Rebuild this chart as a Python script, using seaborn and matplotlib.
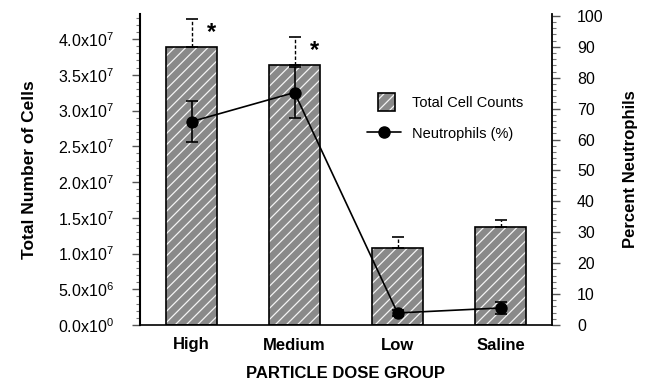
import numpy as np
import pandas as pd
import matplotlib
matplotlib.use("Agg")
import matplotlib.pyplot as plt
import seaborn as sns
from matplotlib.patches import Patch, Rectangle
from matplotlib.lines import Line2D
from matplotlib.legend_handler import HandlerPatch, HandlerTuple
from matplotlib.ticker import MultipleLocator, FixedLocator, FixedFormatter

# ---- data -------------------------------------------------------------
groups = ["High", "Medium", "Low", "Saline"]
total_cells = [3.89e7, 3.64e7, 1.08e7, 1.37e7]
total_cells_err = [0.39e7, 0.39e7, 0.15e7, 0.10e7]
neutrophils_pct = [65.8, 75.2, 3.9, 5.5]
neutrophils_err = [6.5, 8.2, 1.0, 1.9]
significant = [True, True, False, False]

cell_ticks = [0, 5e6, 1e7, 1.5e7, 2e7, 2.5e7, 3e7, 3.5e7, 4e7]
cell_tick_labels = ["0.0x10^{0}", "5.0x10^{6}", "1.0x10^{7}", "1.5x10^{7}",
                    "2.0x10^{7}", "2.5x10^{7}", "3.0x10^{7}", "3.5x10^{7}",
                    "4.0x10^{7}"]
pct_ticks = [0, 10, 20, 30, 40, 50, 60, 70, 80, 90, 100]

# ---- style ------------------------------------------------------------
sns.set_theme(style="white")
plt.rcParams["font.family"] = ["Liberation Sans", "DejaVu Sans"]
plt.rcParams["mathtext.fontset"] = "custom"
plt.rcParams["mathtext.rm"] = "Liberation Sans"
plt.rcParams["mathtext.it"] = "Liberation Sans:italic"
plt.rcParams["mathtext.bf"] = "Liberation Sans:bold"
plt.rcParams["hatch.linewidth"] = 0.9
for key in ["text.color", "axes.labelcolor", "xtick.labelcolor",
            "ytick.labelcolor"]:
    plt.rcParams[key] = "black"

BAR_GREY = "#8a8a8a"
HATCH = "///"

fig = plt.figure(figsize=(6.49, 3.83), dpi=100)
ax = fig.add_axes([140 / 649, 1 - 325 / 383, 412 / 649, 311 / 383])

df = pd.DataFrame({"group": groups, "cells": total_cells})

# hatched grey fill, then a black outline on top
sns.barplot(data=df, x="group", y="cells", order=groups, width=0.5,
            color=BAR_GREY, saturation=1, edgecolor="#f4f4f4", linewidth=0,
            hatch=HATCH, errorbar=None, ax=ax)
sns.barplot(data=df, x="group", y="cells", order=groups, width=0.5,
            fill=False, color="black", linewidth=1.2, errorbar=None, ax=ax)

x_pos = np.arange(len(groups))
eb = ax.errorbar(x_pos, total_cells,
                 yerr=[np.zeros(len(groups)), total_cells_err],
                 fmt="none", ecolor="black", elinewidth=1.0,
                 capsize=4, capthick=1.2, zorder=3)
eb[2][0].set_linestyle((0, (2.5, 1.5)))

for i, sig in enumerate(significant):
    if sig:
        ax.annotate("*", xy=(i, total_cells[i] + total_cells_err[i]),
                    xytext=(20, -2), textcoords="offset pixels",
                    ha="center", va="top", fontsize=17, fontweight="bold",
                    color="black")

ax.set_ylim(0, 4.35e7)
ax.set_xlim(-0.5, len(groups) - 0.5)
ax.yaxis.set_major_locator(FixedLocator(cell_ticks))
ax.yaxis.set_major_formatter(
    FixedFormatter([r"$\mathregular{" + s + "}$" for s in cell_tick_labels]))
ax.yaxis.set_minor_locator(MultipleLocator(1e6))
ax.tick_params(axis="y", which="major", direction="out", length=6,
               width=1.0, color="#555555", labelsize=11.5, pad=13, left=True)
ax.tick_params(axis="y", which="minor", direction="out", length=3,
               width=0.8, color="#777777", left=True)
ax.tick_params(axis="x", length=0, labelsize=12, pad=9)
for lab in ax.get_xticklabels():
    lab.set_fontweight("bold")
ax.set_xlabel("PARTICLE DOSE GROUP", fontsize=12, fontweight="bold",
              labelpad=10)
ax.set_ylabel("Total Number of Cells", fontsize=12.5, fontweight="bold",
              labelpad=15)

for side in ["left", "bottom", "right"]:
    ax.spines[side].set_color("black")
ax.spines["left"].set_linewidth(1.5)
ax.spines["bottom"].set_linewidth(1.2)
ax.spines["top"].set_visible(False)
ax.spines["right"].set_visible(False)

# ---- neutrophil percentage on the right axis ------------------------
ax2 = ax.twinx()
sns.pointplot(x=groups, y=neutrophils_pct, order=groups, color="black",
              markers="o", markersize=8, linewidth=1.2, errorbar=None,
              ax=ax2)
ax2.errorbar(x_pos, neutrophils_pct, yerr=neutrophils_err, fmt="none",
             ecolor="black", elinewidth=1.2, capsize=4, capthick=1.2,
             zorder=1)
ax2.set_ylim(0, 100.6)
ax2.set_xlim(-0.5, len(groups) - 0.5)
ax2.yaxis.set_major_locator(FixedLocator(pct_ticks))
ax2.yaxis.set_minor_locator(MultipleLocator(2))
ax2.tick_params(axis="y", which="major", direction="out", length=6,
                width=1.0, color="#555555", labelsize=11.5, pad=12,
                right=True)
ax2.tick_params(axis="y", which="minor", direction="out", length=3,
                width=0.8, color="#777777", right=True)
ax2.set_ylabel("Percent Neutrophils", fontsize=12, fontweight="bold",
               labelpad=14)
for side in ["left", "bottom", "top"]:
    ax2.spines[side].set_visible(False)
ax2.spines["right"].set_color("black")
ax2.spines["right"].set_linewidth(1.3)


# ---- legend -----------------------------------------------------------
def square_box(legend, orig_handle, xdescent, ydescent, width, height,
               fontsize):
    side = height
    return Rectangle((-xdescent + (width - side) / 2 + 2, -ydescent),
                     side, height)


bar_handle = (Patch(facecolor=BAR_GREY, edgecolor="#f4f4f4", linewidth=0,
                    hatch=HATCH),
              Patch(fill=False, edgecolor="black", linewidth=1.2))
line_handle = Line2D([], [], color="black", linewidth=1.2, marker="o",
                     markersize=8)
fig.legend([bar_handle, line_handle],
           ["Total Cell Counts", "Neutrophils (%)"],
           handler_map={Patch: HandlerPatch(patch_func=square_box),
                        tuple: HandlerTuple(ndivide=1)},
           loc="upper left", bbox_to_anchor=(367 / 649, 1 - 93 / 383),
           bbox_transform=fig.transFigure, frameon=False, fontsize=10.5,
           handlelength=2.3, handleheight=1.5, handletextpad=0.8,
           labelspacing=0.95, borderpad=0, borderaxespad=0)

fig.savefig("out.png", dpi=100)
